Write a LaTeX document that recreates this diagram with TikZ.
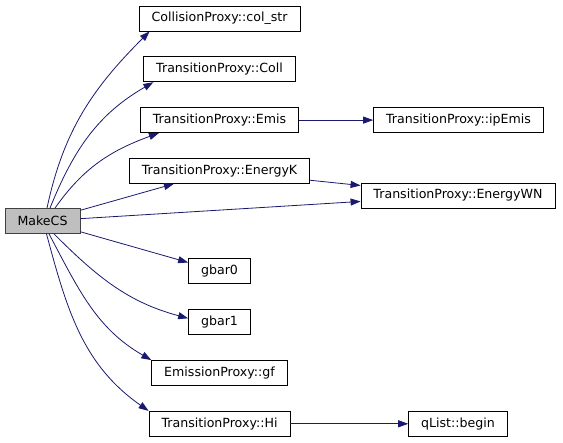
\documentclass[tikz,border=0pt]{standalone}
\usepackage{fontspec}
\setmainfont{DejaVu Sans}
\usetikzlibrary{positioning, arrows.meta}
\definecolor{edgeblue}{HTML}{191970}
\definecolor{rootgray}{HTML}{BFBFBF}
\definecolor{rootline}{HTML}{404040}

\begin{document}
\begin{tikzpicture}[x=1pt, y=1pt, node distance=50.8pt, on grid,
    func/.style={draw, fill=white, line width=0.8pt, minimum height=25pt,
      inner xsep=12.5pt, font=\fontsize{12.6}{15}\selectfont},
    root/.style={func, fill=rootgray, draw=rootline},
    call/.style={color=edgeblue, line width=0.8pt, -{Triangle[length=10pt, width=7pt]}}]
   \useasboundingbox (0,0) rectangle (563,-443);

   \node[root] (MakeCS) at (42.5,-221) {MakeCS};
   \node[func] (colstr) at (219.5,-18.5) {CollisionProxy::col\_str};
   \node[func, below=of colstr] (Coll) {TransitionProxy::Coll};
   \node[func, below=of Coll] (Emis) {TransitionProxy::Emis};
   \node[func, below=of Emis] (EnergyK) {TransitionProxy::EnergyK};
   \node[func, below=100.5pt of EnergyK] (gbar0) {gbar0};
   \node[func, below=of gbar0] (gbar1) {gbar1};
   \node[func, below=of gbar1] (gf) {EmissionProxy::gf};
   \node[func, below=of gf] (Hi) {TransitionProxy::Hi};
   \node[func, right=239pt of Emis] (ipEmis) {TransitionProxy::ipEmis};
   \node[func] (EnergyWN) at (458,-195.5) {TransitionProxy::EnergyWN};
   \node[func, right=238.5pt of Hi] (begin) {qList::begin};

    \path[call]
    ([xshift=4.5pt]MakeCS.north) edge [out=78, in=225] ([xshift=11pt]colstr.south west)
    ([xshift=7.5pt]MakeCS.north) edge [out=68, in=210] ([xshift=10pt]Coll.south west)
    ([xshift=12.5pt]MakeCS.north) edge [out=55, in=200] ([xshift=19pt]Emis.south west)
    (MakeCS) edge (EnergyK)
             edge (EnergyWN)
             edge (gbar0)
    ([xshift=11.5pt]MakeCS.south) edge [out=-45, in=165] ([yshift=-9pt]gbar1.north west)
    ([xshift=6.5pt]MakeCS.south) edge [out=-62, in=150] (gf.north west)
    ([xshift=4pt]MakeCS.south) edge [out=-75, in=145] (Hi.north west)
    (EnergyK) edge (EnergyWN)
    (Emis) edge (ipEmis)
    (Hi) edge (begin);
\end{tikzpicture}
\end{document}
